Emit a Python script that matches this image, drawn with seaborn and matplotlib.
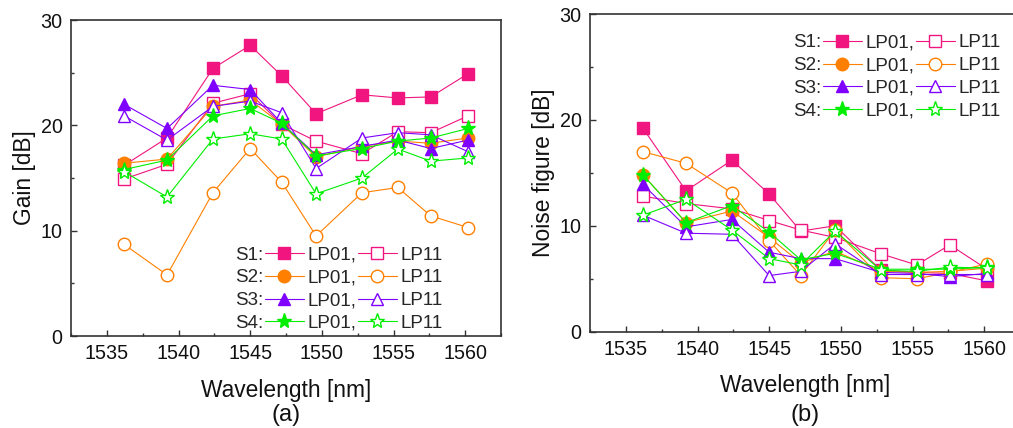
import numpy as np
import pandas as pd
import matplotlib
matplotlib.use("Agg")
import matplotlib.pyplot as plt
from matplotlib.lines import Line2D
from matplotlib.ticker import MultipleLocator
import seaborn as sns

# ---------------- data ----------------
wavelength = [1536.2, 1539.2, 1542.4, 1545.0, 1547.2, 1549.6, 1552.8, 1555.3, 1557.6, 1560.2]

gain_s1_lp01 = [16.2, 18.8, 25.4, 27.6, 24.7, 21.1, 22.9, 22.6, 22.7, 24.9]
gain_s1_lp11 = [14.9, 16.3, 22.1, 23.0, 20.1, 18.5, 17.3, 19.4, 19.3, 20.9]
gain_s2_lp01 = [16.4, 16.8, 21.8, 22.4, 20.1, 17.0, 18.0, 18.5, 18.3, 18.8]
gain_s2_lp11 = [8.7, 5.8, 13.6, 17.8, 14.6, 9.5, 13.6, 14.1, 11.4, 10.3]
gain_s3_lp01 = [22.0, 19.7, 23.8, 23.4, 20.2, 17.2, 18.0, 18.6, 17.8, 18.6]
gain_s3_lp11 = [20.9, 18.6, 21.8, 22.3, 21.2, 15.9, 18.8, 19.3, 19.1, 17.5]
gain_s4_lp01 = [15.8, 16.7, 20.9, 21.6, 20.2, 17.1, 17.8, 18.5, 18.8, 19.7]
gain_s4_lp11 = [15.6, 13.2, 18.7, 19.2, 18.7, 13.5, 15.0, 17.75, 16.6, 16.9]

nf_s1_lp01 = [19.2, 13.3, 16.2, 13.0, 9.5, 10.0, 5.8, 5.6, 5.5, 4.8]
nf_s1_lp11 = [12.8, 12.1, 11.6, 10.5, 9.6, 8.9, 7.35, 6.3, 8.2, 5.9]
nf_s2_lp01 = [14.8, 10.3, 11.4, 8.9, 6.5, 7.6, 5.7, 5.6, 5.7, 6.0]
nf_s2_lp11 = [17.0, 15.9, 13.1, 8.6, 5.3, 9.6, 5.1, 5.0, 5.6, 6.4]
nf_s3_lp01 = [13.9, 9.9, 10.6, 7.5, 6.9, 6.9, 5.6, 5.5, 5.2, 5.5]
nf_s3_lp11 = [11.0, 9.3, 9.2, 5.3, 5.7, 8.3, 5.4, 5.4, 5.4, 5.4]
nf_s4_lp01 = [14.8, 10.3, 11.9, 9.4, 6.8, 7.4, 5.9, 5.9, 5.9, 6.1]
nf_s4_lp11 = [11.0, 12.5, 9.6, 6.9, 6.3, 9.5, 5.8, 5.7, 6.1, 6.0]

setups = ["S1", "S2", "S3", "S4"]
modes = ["LP01", "LP11"]
x_ticks = [1535, 1540, 1545, 1550, 1555, 1560]
y_ticks = [0, 10, 20, 30]

gain_data = {
    ("S1", "LP01"): gain_s1_lp01, ("S1", "LP11"): gain_s1_lp11,
    ("S2", "LP01"): gain_s2_lp01, ("S2", "LP11"): gain_s2_lp11,
    ("S3", "LP01"): gain_s3_lp01, ("S3", "LP11"): gain_s3_lp11,
    ("S4", "LP01"): gain_s4_lp01, ("S4", "LP11"): gain_s4_lp11,
}
nf_data = {
    ("S1", "LP01"): nf_s1_lp01, ("S1", "LP11"): nf_s1_lp11,
    ("S2", "LP01"): nf_s2_lp01, ("S2", "LP11"): nf_s2_lp11,
    ("S3", "LP01"): nf_s3_lp01, ("S3", "LP11"): nf_s3_lp11,
    ("S4", "LP01"): nf_s4_lp01, ("S4", "LP11"): nf_s4_lp11,
}

# ---------------- style ----------------
sns.set_style("ticks")
plt.rcParams["font.family"] = ["Liberation Sans", "DejaVu Sans"]

colors = {"S1": "#f0157f", "S2": "#ff8000", "S3": "#7f00ff", "S4": "#00ee00"}
markers = {"S1": "s", "S2": "o", "S3": "^", "S4": "*"}
msizes = {"S1": 8.0, "S2": 9.0, "S3": 9.0, "S4": 11.0}

fig = plt.figure(figsize=(10.13, 4.28), dpi=100)
axA = fig.add_axes([71 / 1013, (428 - 336) / 428, 430 / 1013, 316 / 428])
axB = fig.add_axes([590 / 1013, (428 - 331.7) / 428, 430 / 1013, 317.7 / 428])


def draw(ax, data):
    for s in setups:
        for m in modes:
            df = pd.DataFrame({"wl": wavelength, "val": data[(s, m)]})
            filled = m == "LP01"
            sns.lineplot(data=df, x="wl", y="val", ax=ax, color=colors[s],
                         linewidth=0.8, marker=markers[s],
                         markersize=msizes[s],
                         markerfacecolor=colors[s] if filled else "white",
                         markeredgecolor=colors[s], markeredgewidth=1.0,
                         legend=False, estimator=None, sort=False)


def style_axes(ax, ylabel):
    ax.set_xlim(1532.5, 1562.5)
    ax.set_ylim(0, 30)
    ax.set_xticks(x_ticks)
    ax.set_yticks(y_ticks)
    ax.xaxis.set_minor_locator(MultipleLocator(2.5))
    ax.yaxis.set_minor_locator(MultipleLocator(5))
    ax.tick_params(which="both", direction="in", colors="#333333",
                   labelcolor="#111111", labelsize=14.2, width=1.0)
    ax.tick_params(which="major", length=4, pad=6)
    ax.tick_params(which="minor", length=2)
    for sp in ax.spines.values():
        sp.set_visible(True)
        sp.set_color("#333333")
        sp.set_linewidth(1.2)
    ax.set_xlabel("Wavelength [nm]", fontsize=16.4, labelpad=11, color="#111111")
    ax.set_ylabel(ylabel, fontsize=16.4, labelpad=3, color="#111111")


def add_legend(ax, anchor):
    blank = [Line2D([], [], linestyle="none") for _ in setups]
    h01 = [Line2D([], [], color=colors[s], lw=0.8, marker=markers[s],
                  markersize=msizes[s], markerfacecolor=colors[s],
                  markeredgecolor=colors[s]) for s in setups]
    h11 = [Line2D([], [], color=colors[s], lw=0.8, marker=markers[s],
                  markersize=msizes[s], markerfacecolor="white",
                  markeredgecolor=colors[s]) for s in setups]
    labels = [f"{s}:" for s in setups] + ["LP01,"] * 4 + ["LP11"] * 4
    ax.legend(blank + h01 + h11, labels, ncol=3, loc="upper right",
              bbox_to_anchor=anchor, frameon=False, fontsize=13.5,
              handlelength=2.1, handletextpad=0.2, columnspacing=0.05,
              labelspacing=0.3, borderpad=0, borderaxespad=0)


draw(axA, gain_data)
draw(axB, nf_data)
style_axes(axA, "Gain [dB]")
style_axes(axB, "Noise figure [dB]")
add_legend(axA, (0.865, 0.283))
add_legend(axB, (0.956, 0.936))

fig.text((71 + 501) / 2 / 1013, 1 - 415 / 428, "(a)", ha="center", va="center",
         fontsize=17, color="#111111")
fig.text((590 + 1020) / 2 / 1013, 1 - 415 / 428, "(b)", ha="center", va="center",
         fontsize=17, color="#111111")

fig.savefig("out.png", dpi=100)
